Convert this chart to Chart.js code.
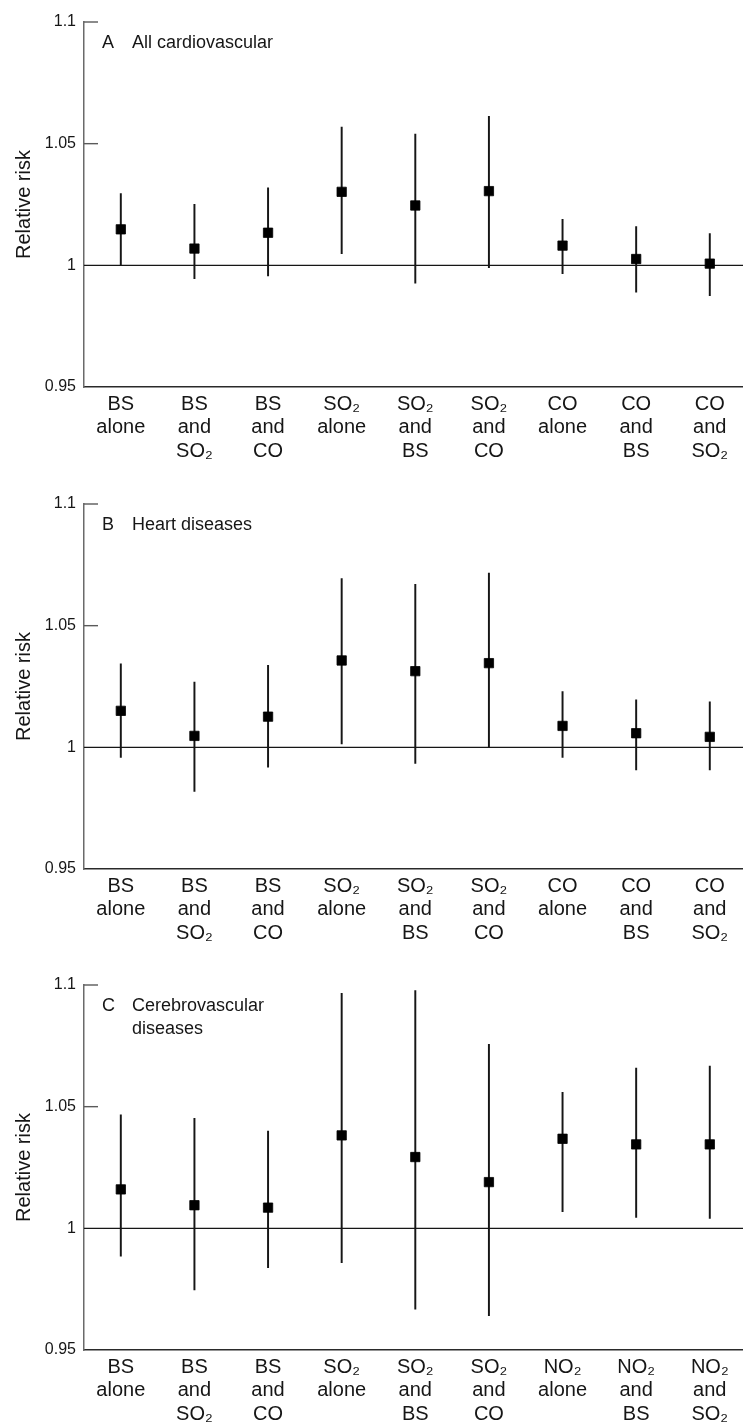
<!DOCTYPE html>
<html>
<head>
<meta charset="utf-8">
<script src="https://cdn.jsdelivr.net/npm/chart.js@4.4.1/dist/chart.umd.min.js"></script>
<style>
    body { margin: 0; background: #fff; overflow: hidden; }
    .panel { position: absolute; left: 0; width: 743px; overflow: hidden; }
</style>
</head>
<body>
<!-- canvases are a few px wider than the page so the marker overflow margin falls off-screen -->
<div class="panel" style="top:0px; height:481px"><canvas id="chartA" width="754" height="481"></canvas></div>
<div class="panel" style="top:482px; height:481px"><canvas id="chartB" width="754" height="481"></canvas></div>
<div class="panel" style="top:963px; height:461px"><canvas id="chartC" width="754" height="461"></canvas></div>
<script>
// categories
const labelsCO = [['BS', 'alone'], ['BS', 'and', 'SO₂'], ['BS', 'and', 'CO'],
    ['SO₂', 'alone'], ['SO₂', 'and', 'BS'], ['SO₂', 'and', 'CO'],
    ['CO', 'alone'], ['CO', 'and', 'BS'], ['CO', 'and', 'SO₂']];
const labelsNO2 = [['BS', 'alone'], ['BS', 'and', 'SO₂'], ['BS', 'and', 'CO'],
    ['SO₂', 'alone'], ['SO₂', 'and', 'BS'], ['SO₂', 'and', 'CO'],
    ['NO₂', 'alone'], ['NO₂', 'and', 'BS'], ['NO₂', 'and', 'SO₂']];

const yTicks = [0.95, 1, 1.05, 1.1];

// A  All cardiovascular
const rrA = [1.0148, 1.0069, 1.0134, 1.0302, 1.0246, 1.0305, 1.0081, 1.0026, 1.0007];
const lowA = [1.0000, 0.9945, 0.9956, 1.0048, 0.9927, 0.9990, 0.9966, 0.9890, 0.9875];
const highA = [1.0295, 1.0251, 1.0318, 1.0568, 1.0539, 1.0612, 1.0189, 1.0159, 1.0130];

// B  Heart diseases
const rrB = [1.0150, 1.0047, 1.0126, 1.0357, 1.0313, 1.0346, 1.0088, 1.0058, 1.0043];
const lowB = [0.9959, 0.9819, 0.9918, 1.0014, 0.9934, 1.0000, 0.9959, 0.9907, 0.9907];
const highB = [1.0343, 1.0268, 1.0337, 1.0694, 1.0670, 1.0716, 1.0229, 1.0195, 1.0187];

// C  Cerebrovascular diseases
const rrC = [1.0160, 1.0095, 1.0085, 1.0382, 1.0293, 1.0190, 1.0368, 1.0345, 1.0345];
const lowC = [0.9886, 0.9747, 0.9838, 0.9859, 0.9668, 0.9641, 1.0068, 1.0045, 1.0041];
const highC = [1.0466, 1.0452, 1.0400, 1.0966, 1.0977, 1.0756, 1.0559, 1.0659, 1.0667];

const FONT = '"Liberation Sans", Arial, Helvetica, sans-serif';
const INK = '#161616';

// reference line at 1, inner tick marks and the panel heading
const panelDecor = {
    id: 'panelDecor',
    beforeDatasetsDraw(chart) {
        const ctx = chart.ctx;
        const area = chart.chartArea;
        const y = chart.scales.y;
        ctx.save();
        ctx.lineWidth = 1.4;
        ctx.strokeStyle = '#5a5a5a';
        for (const v of [1.05, 1.1]) {
            const py = y.getPixelForValue(v);
            ctx.beginPath();
            ctx.moveTo(area.left, py);
            ctx.lineTo(area.left + 14, py);
            ctx.stroke();
        }
        const p1 = y.getPixelForValue(1);
        ctx.strokeStyle = INK;
        ctx.lineWidth = 1.3;
        ctx.beginPath();
        ctx.moveTo(area.left, p1);
        ctx.lineTo(chart.width, p1);
        ctx.stroke();
        ctx.restore();
    },
    afterDraw(chart, args, opts) {
        const ctx = chart.ctx;
        const top = chart.chartArea.top;
        ctx.save();
        ctx.fillStyle = INK;
        ctx.font = '18px ' + FONT;
        ctx.textBaseline = 'alphabetic';
        ctx.fillText(opts.letter, 102, top + 26);
        opts.lines.forEach((line, i) => {
            ctx.fillText(line, 132, top + 26 + i * 23);
        });
        ctx.restore();
    }
};

function makePanel(id, labels, rr, low, high, letter, lines) {
    const canvas = document.getElementById(id);
    const intervals = low.map((lo, i) => [lo, high[i]]);

    return new Chart(canvas, {
        type: 'bar',
        data: {
            labels: labels,
            datasets: [{
                type: 'line',
                data: rr,
                showLine: false,
                pointStyle: 'rect',
                pointRadius: 6.6,
                pointHoverRadius: 6.6,
                pointBorderWidth: 0.8,
                pointBackgroundColor: '#000',
                pointBorderColor: '#000',
                order: 1
            }, {
                data: intervals,
                barThickness: 1.3,
                backgroundColor: INK,
                borderWidth: 0,
                order: 2
            }]
        },
        options: {
            responsive: false,
            animation: false,
            devicePixelRatio: 1,
            layout: { padding: { top: 22, left: 0, right: 0, bottom: 0 } },
            plugins: {
                legend: { display: false },
                tooltip: { enabled: false },
                panelDecor: { letter: letter, lines: lines }
            },
            scales: {
                x: {
                    offset: true,
                    grid: { display: false, drawTicks: false },
                    border: { display: true, color: '#2a2a2a', width: 1.4 },
                    ticks: {
                        padding: 6,
                        color: INK,
                        maxRotation: 0,
                        autoSkip: false,
                        font: { family: FONT, size: 20, lineHeight: 1.16 }
                    },
                    afterFit(scale) {
                        scale.height = canvas.height - 22 - 365;
                        scale.paddingLeft = 0;
                        scale.paddingRight = 0;
                    }
                },
                y: {
                    min: 0.95,
                    max: 1.1,
                    afterBuildTicks(scale) { scale.ticks = yTicks.map(v => ({ value: v })); },
                    grid: { display: false, drawTicks: false },
                    border: { display: true, color: '#6a6a6a', width: 1.5 },
                    ticks: {
                        padding: 8,
                        color: INK,
                        font: { family: FONT, size: 16 },
                        callback: (v) => String(v)
                    },
                    title: {
                        display: true,
                        text: 'Relative risk',
                        color: INK,
                        font: { family: FONT, size: 20 },
                        padding: { top: 12, bottom: 0 }
                    },
                    afterFit(scale) {
                        scale.width = 84;
                        scale.paddingTop = 0;
                        scale.paddingBottom = 0;
                    }
                }
            }
        },
        plugins: [panelDecor]
    });
}

makePanel('chartA', labelsCO, rrA, lowA, highA, 'A', ['All cardiovascular']);
makePanel('chartB', labelsCO, rrB, lowB, highB, 'B', ['Heart diseases']);
makePanel('chartC', labelsNO2, rrC, lowC, highC, 'C', ['Cerebrovascular', 'diseases']);
</script>
</body>
</html>
